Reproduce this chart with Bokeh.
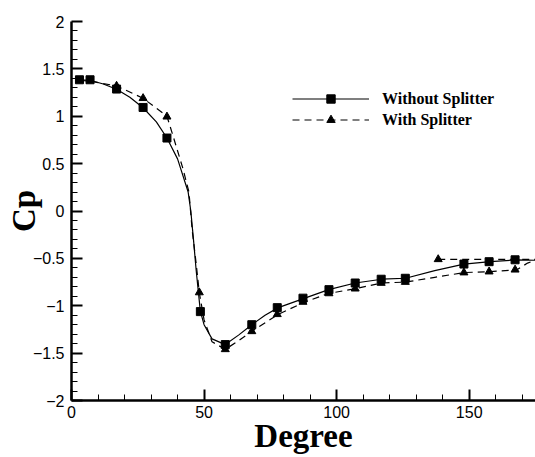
from bokeh.plotting import figure
from bokeh.models import FixedTicker, Legend, LegendItem, Range1d
from bokeh.embed import file_html
from bokeh.resources import INLINE

# ---- data ----
# Without Splitter: smooth curve + marker points
wo_line_x = [3, 7, 12, 17, 22, 27, 32, 36, 40, 44, 45, 46, 47, 48.6, 50, 53, 58, 63, 68, 73, 78, 88, 97, 107, 117, 126, 137, 148, 158, 168, 175]
wo_line_y = [1.385, 1.38, 1.34, 1.285, 1.2, 1.09, 0.94, 0.77, 0.55, 0.2, 0.0, -0.3, -0.62, -1.06, -1.2, -1.35, -1.41, -1.31, -1.2, -1.1, -1.02, -0.92, -0.83, -0.76, -0.72, -0.71, -0.63, -0.56, -0.535, -0.515, -0.52]
wo_mark_x = [3, 7, 17, 27, 36, 48.6, 58, 68, 77.6, 87.3, 97.1, 107, 116.8, 125.9, 148, 157.5, 167.3]
wo_mark_y = [1.385, 1.385, 1.287, 1.093, 0.77, -1.062, -1.41, -1.2, -1.02, -0.92, -0.83, -0.76, -0.72, -0.71, -0.56, -0.535, -0.515]

# With Splitter: curve + marker points
ws_line_x = [3, 7, 17, 27, 36, 38, 42, 44.3, 45.5, 47, 48.2, 50, 53, 58, 63, 68, 78, 88, 97, 107, 117, 126, 137, 148, 158, 168, 172, 176, 138.3]
ws_line_y = [1.38, 1.37, 1.32, 1.19, 1.0, 0.82, 0.45, 0.2, -0.2, -0.55, -0.86, -1.15, -1.38, -1.46, -1.37, -1.27, -1.09, -0.96, -0.87, -0.82, -0.76, -0.75, -0.70, -0.65, -0.64, -0.62, -0.55, -0.51, -0.51]
ws_mark_x = [17, 27, 36, 48.2, 58, 68, 77.6, 87.3, 97.1, 107, 116.8, 125.9, 138.3, 148, 157.5, 167.3]
ws_mark_y = [1.32, 1.19, 0.995, -0.86, -1.46, -1.27, -1.09, -0.96, -0.87, -0.82, -0.76, -0.75, -0.51, -0.65, -0.64, -0.62]

x_major = [0, 50, 100, 150]
x_minor = [v for v in range(0, 180, 10) if v % 50 != 0]
y_major = [-2, -1.5, -1, -0.5, 0, 0.5, 1, 1.5, 2]
y_minor = [round(-2 + 0.1 * i, 1) for i in range(41) if i % 5 != 0]

series_names = ["Without Splitter", "With Splitter"]
x_title = "Degree"
y_title = "Cp"

# ---- figure ----
p = figure(width=535, height=457, output_backend="svg", toolbar_location=None,
           x_range=Range1d(0, 175), y_range=Range1d(-2, 2),
           min_border_left=71, min_border_right=0, min_border_top=21, min_border_bottom=57)
p.outline_line_color = None
p.grid.visible = False
p.background_fill_color = "white"
p.border_fill_color = "white"

for ax in (p.xaxis[0], p.yaxis[0]):
    ax.axis_line_width = 2.5
    ax.axis_line_color = "black"
    ax.major_tick_in = 11
    ax.major_tick_out = 0
    ax.minor_tick_in = 6
    ax.minor_tick_out = 0
    ax.major_tick_line_width = 2
    ax.minor_tick_line_width = 1
    ax.major_tick_line_color = "black"
    ax.minor_tick_line_color = "black"
    ax.major_label_text_font = "Liberation Sans"
    ax.major_label_text_font_size = "16px"
    ax.major_label_text_color = "black"
    ax.axis_label_text_font = "Liberation Serif"
    ax.axis_label_text_font_style = "bold"
    ax.axis_label_text_font_size = "33px"
    ax.axis_label_text_color = "black"

p.xaxis.ticker = FixedTicker(ticks=x_major, minor_ticks=x_minor)
p.yaxis.ticker = FixedTicker(ticks=y_major, minor_ticks=y_minor)
p.xaxis.major_label_standoff = 5
p.yaxis.major_label_standoff = 7
p.xaxis.axis_label = x_title
p.yaxis.axis_label = y_title
p.xaxis.axis_label_standoff = -3
p.yaxis.axis_label_standoff = -12

r1 = p.line(wo_line_x, wo_line_y, line_color="black", line_width=1.2)
m1 = p.scatter(wo_mark_x, wo_mark_y, marker="square", size=8, color="black")
r2 = p.line(ws_line_x, ws_line_y, line_color="black", line_width=1.2, line_dash="7 5")
m2 = p.scatter(ws_mark_x, ws_mark_y, marker="triangle", size=8, color="black")

legend = Legend(items=[LegendItem(label=series_names[0], renderers=[r1, m1]),
                       LegendItem(label=series_names[1], renderers=[r2, m2])],
                location=(221, 270), glyph_width=77, glyph_height=21, label_height=21,
                label_standoff=13, spacing=0, padding=0, margin=0,
                border_line_color=None, background_fill_alpha=0,
                label_text_font="Liberation Serif", label_text_font_style="bold",
                label_text_font_size="16px", label_text_color="black")
p.add_layout(legend, "center")

open("out.html", "w").write(file_html(p, INLINE))
